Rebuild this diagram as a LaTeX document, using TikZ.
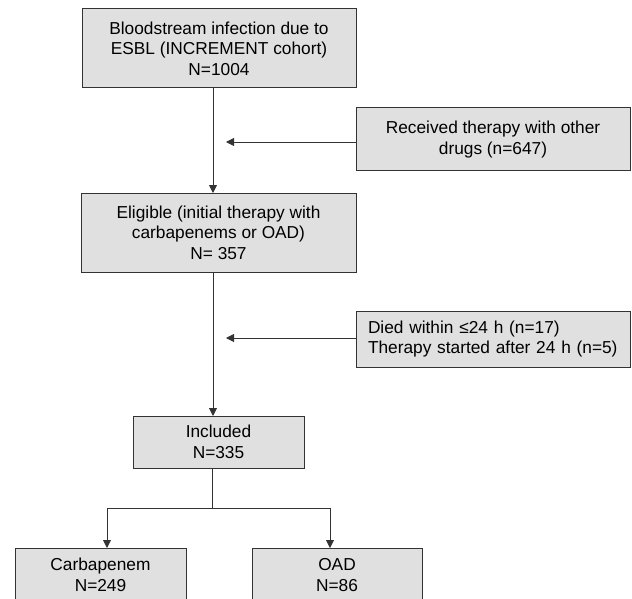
\documentclass[tikz,border=0pt]{standalone}
\usepackage{fontspec}
\setmainfont{Liberation Sans}
\usetikzlibrary{arrows.meta}
\definecolor{boxfill}{HTML}{E0E0E0}
\definecolor{linecol}{HTML}{333333}
\begin{document}
\begin{tikzpicture}[x=1pt,y=-1pt,
  box/.style={draw=linecol,fill=boxfill,line width=1pt,inner sep=0pt,align=center,
    font=\fontsize{17.3}{20.5}\selectfont},
  arr/.style={draw=linecol,line width=0.9pt,-{Triangle[width=8pt,length=8pt]}},
  ln/.style={draw=linecol,line width=0.9pt}]
\useasboundingbox (0,0) rectangle (632,599);
\node[box,minimum width=274pt,minimum height=79pt] (b1) at (219,48.5)
  {Bloodstream infection due to\\ESBL (INCREMENT cohort)\\N=1004};
\node[box,minimum width=274pt,minimum height=63pt] (b2) at (493,139.5)
  {Received therapy with other\\drugs (n=647)};
\node[box,minimum width=275pt,minimum height=79pt] (b3) at (218.5,232.5)
  {Eligible (initial therapy with\\carbapenems or OAD)\\N= 357};
\node[box,minimum width=274pt,minimum height=56pt,align=left,text width=250pt] (b4) at (493,339)
  {Died within ≤24 h (n=17)\\Therapy started after 24 h (n=5)};
\node[box,minimum width=171pt,minimum height=52pt] (b5) at (218.5,442)
  {Included\\N=335};
\node[box,minimum width=171pt,minimum height=54pt] (b6) at (100.5,575)
  {Carbapenem\\N=249};
\node[box,minimum width=170pt,minimum height=54pt] (b7) at (337,575)
  {OAD\\N=86};
\coordinate (t1) at (226,142);
\coordinate (t2) at (226,338);
\coordinate (j) at (212,508);
\path[arr] (213,88) -- (213,193);
\path[arr] (213,272) -- (213,416);
\path[arr] (b2.west |- t1) -- (t1);
\path[arr] (b4.west |- t2) -- (t2);
\path[ln] (212,468) -- (j);
\path[arr] (j) -| (107,548);
\path[arr] (j) -| (330,548);
\end{tikzpicture}
\end{document}
